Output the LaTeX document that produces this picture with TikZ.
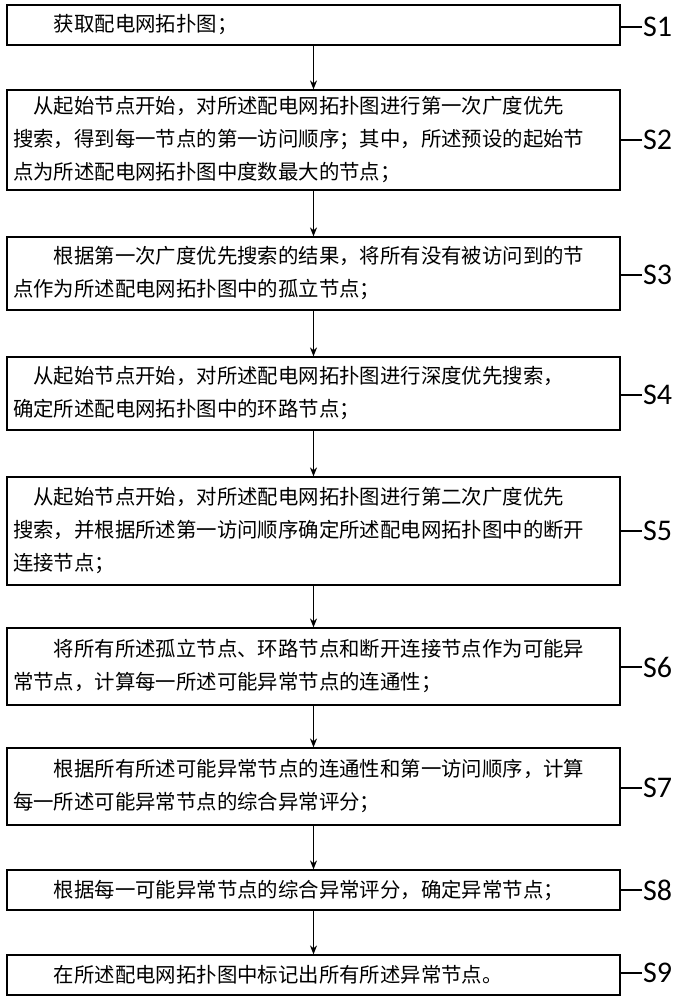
\documentclass[tikz,border=0pt]{standalone}
\usepackage{fontspec}
\setmainfont{Carlito}
\newfontfamily\cjk{Noto Sans CJK SC}
\usetikzlibrary{arrows.meta}
\begin{document}
\begin{tikzpicture}[x=1pt,y=-1pt,
 box/.style={draw,line width=1.2pt,rectangle,minimum width=613pt,text width=601pt,align=left,inner sep=0pt,font=\cjk\fontsize{20.4}{33}\selectfont},
 lab/.style={font=\fontsize{30}{30}\selectfont,anchor=west,inner sep=1pt},
 arr/.style={line width=1.2pt,-{Stealth[length=9pt,width=7pt]}},
 ln/.style={line width=1.2pt}]
\useasboundingbox (0,0) rectangle (687,1000);
\node[box,minimum height=40pt] (b1) at (313.5,25) {\hspace*{2em}获取配电网拓扑图；};
\node[box,minimum height=100pt] (b2) at (313.5,140) {\hspace*{1em}从起始节点开始，对所述配电网拓扑图进行第一次广度优先\\搜索，得到每一节点的第一访问顺序；其中，所述预设的起始节\\点为所述配电网拓扑图中度数最大的节点；};
\node[box,minimum height=73pt] (b3) at (313.5,273.5) {\hspace*{2em}根据第一次广度优先搜索的结果，将所有没有被访问到的节\\点作为所述配电网拓扑图中的孤立节点；};
\node[box,minimum height=73pt] (b4) at (313.5,393.5) {\hspace*{1em}从起始节点开始，对所述配电网拓扑图进行深度优先搜索，\\确定所述配电网拓扑图中的环路节点；};
\node[box,minimum height=108pt] (b5) at (313.5,531) {\hspace*{1em}从起始节点开始，对所述配电网拓扑图进行第二次广度优先\\搜索，并根据所述第一访问顺序确定所述配电网拓扑图中的断开\\连接节点；};
\node[box,minimum height=77pt] (b6) at (313.5,666.5) {\hspace*{2em}将所有所述孤立节点、环路节点和断开连接节点作为可能异\\常节点，计算每一所述可能异常节点的连通性；};
\node[box,minimum height=77pt] (b7) at (313.5,786.5) {\hspace*{2em}根据所有所述可能异常节点的连通性和第一访问顺序，计算\\每一所述可能异常节点的综合异常评分；};
\node[box,minimum height=40pt] (b8) at (313.5,890) {\hspace*{2em}根据每一可能异常节点的综合异常评分，确定异常节点；};
\node[box,minimum height=40pt] (b9) at (313.5,975) {\hspace*{2em}在所述配电网拓扑图中标记出所有所述异常节点。};
\foreach \i/\y in {1/27,2/140,3/275,4/395,5/531,6/667,7/788,8/890,9/973}{
 \node[lab] (s\i) at (642,\y) {S\i};
 \draw[ln] (b\i.east|-s\i.west) -- (s\i.west);
}
\foreach \a/\b in {1/2,2/3,3/4,4/5,5/6,6/7,7/8,8/9}{
 \draw[arr] (b\a.south) -- (b\b.north);
}
\end{tikzpicture}
\end{document}
